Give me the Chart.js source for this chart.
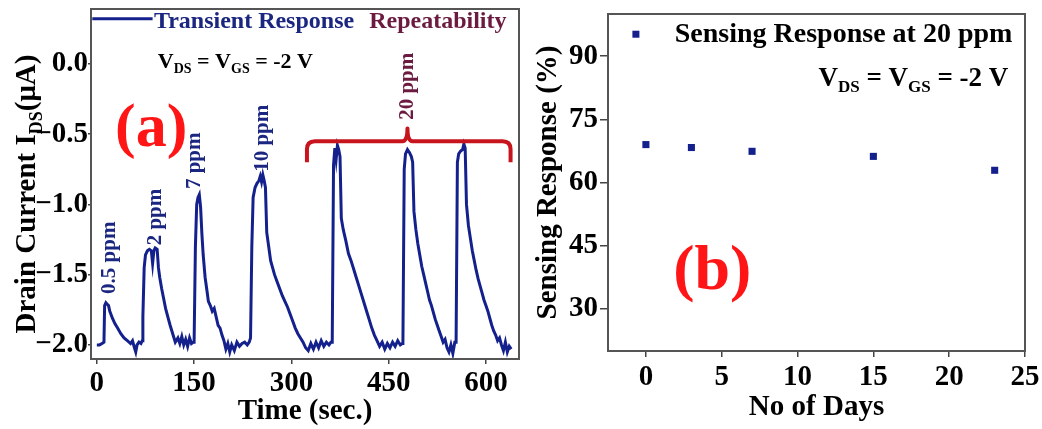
<!DOCTYPE html>
<html>
<head>
<meta charset="utf-8">
<script src="https://cdn.jsdelivr.net/npm/chart.js@4.4.0/dist/chart.umd.min.js"></script>
<style>
  html, body { margin: 0; padding: 0; background: #fff; }
  #wrap { position: relative; width: 1042px; height: 429px; }
  .panel { position: absolute; top: 0; }
  #pa { left: 0; }
  #pb { left: 530px; }
</style>
</head>
<body>
<div id="wrap">
  <div class="panel" id="pa"><canvas id="chartA" width="530" height="429"></canvas></div>
  <div class="panel" id="pb"><canvas id="chartB" width="512" height="429"></canvas></div>
</div>
<script>
/* (a) transient response */
const timeSec = [
  0, 4, 8, 11, 12, 14, 16, 18, 20, 24, 28, 32, 37, 42, 47, 52, 55, 58, 60, 62, 65, 68, 70,
  71, 73, 75, 78, 81, 84, 86, 88, 90, 93, 95, 97, 100, 103, 106, 110, 113, 117, 121, 125, 128, 131, 134, 137, 140, 143, 146, 149,
  150, 152, 154, 156, 158, 160, 162, 164, 167, 170, 172, 175, 178, 181, 184, 187, 190, 193, 196, 199, 202, 205, 208, 212, 216, 220, 224, 228, 232, 235,
  237, 239, 241, 244, 247, 250, 252, 254, 256, 258, 260, 262, 265, 268, 271, 274, 278, 282, 286, 290, 294, 298, 302, 306, 310, 314, 318, 322, 326, 330, 334, 338, 342, 346, 350, 354, 358, 361,
  363, 365, 367, 369, 371, 373, 375, 377, 380, 384, 388, 392, 396, 400, 404, 408, 412, 416, 420, 424, 428, 432, 436, 440, 444, 448, 452, 456, 460, 464, 468, 471,
  472, 474, 476, 479, 482, 485, 487, 489, 492, 495, 498, 501, 504, 507, 510, 513, 516, 519, 522, 525, 528, 531, 534, 537, 540, 543, 546, 549, 552,
  554, 556, 558, 561, 564, 566, 568, 570, 573, 576, 579, 582, 585, 588, 591, 594, 597, 600, 603, 606, 609, 612, 615, 618, 621, 624, 627, 630, 633, 636, 639
];
const drainCurrent = [
  -2.00, -2.00, -1.99, -1.98, -1.72, -1.70, -1.71, -1.72, -1.76, -1.81, -1.85, -1.88, -1.92, -1.95, -1.97, -1.99, -1.97, -2.02, -2.05, -2.00, -1.98, -1.99, -1.97,
  -1.80, -1.45, -1.36, -1.33, -1.32, -1.33, -1.42, -1.33, -1.31, -1.32, -1.45, -1.52, -1.60, -1.67, -1.74, -1.81, -1.86, -1.92, -1.98, -1.95, -1.99, -1.94, -2.00, -1.96, -2.01, -1.95, -1.99, -1.98,
  -1.98, -1.30, -1.00, -0.95, -0.93, -1.02, -1.21, -1.36, -1.52, -1.62, -1.69, -1.72, -1.76, -1.74, -1.80, -1.86, -1.88, -1.93, -1.97, -2.03, -1.99, -2.05, -2.00, -2.04, -1.98, -2.01, -1.99, -1.98, -2.00, -1.98,
  -1.95, -1.30, -0.95, -0.88, -0.85, -0.83, -0.80, -0.84, -0.79, -0.83, -0.88, -1.20, -1.30, -1.40, -1.45, -1.50, -1.55, -1.60, -1.65, -1.69, -1.73, -1.78, -1.83, -1.88, -1.92, -1.95, -1.98, -2.02, -2.04, -1.99, -2.03, -1.98, -2.02, -1.97, -2.01, -1.98, -2.00, -1.98,
  -1.98, -0.72, -0.60, -0.68, -0.58, -0.61, -0.66, -1.10, -1.18, -1.26, -1.35, -1.40, -1.46, -1.52, -1.58, -1.64, -1.70, -1.76, -1.82, -1.88, -1.93, -1.97, -2.01, -1.98, -2.03, -1.99, -2.02, -1.98, -2.01, -1.97, -2.00, -1.99,
  -1.98, -0.75, -0.64, -0.61, -0.63, -0.66, -0.70, -1.05, -1.18, -1.28, -1.36, -1.44, -1.50, -1.56, -1.62, -1.68, -1.72, -1.77, -1.82, -1.86, -1.90, -1.94, -1.98, -1.96, -2.02, -2.05, -2.00, -2.06, -1.98,
  -1.98, -0.70, -0.64, -0.62, -0.61, -0.57, -0.60, -1.00, -1.15, -1.24, -1.33, -1.40, -1.47, -1.53, -1.58, -1.63, -1.68, -1.72, -1.76, -1.81, -1.86, -1.90, -1.93, -1.97, -1.95, -2.00, -2.04, -1.98, -2.05, -2.01, -2.03
];
const timeTicks = [0, 150, 300, 450, 600];
const currentTicks = [-2.0, -1.5, -1.0, -0.5, 0.0];

/* (b) sensing response vs days */
const days = [0, 3, 7, 15, 23];
const response = [69.0, 68.3, 67.4, 66.2, 62.9];
const dayTicks = [0, 5, 10, 15, 20, 25];
const responseTicks = [30, 45, 60, 75, 90];

const FONT = '"Liberation Serif", "Times New Roman", serif';
const NAVY = '#14218c';
const NAVY_TXT = '#1a2680';
const MAROON = '#6b1a40';
const RED = '#ff1515';
const BRACE = '#c8141c';

function tickFont(size) { return { family: FONT, size: size, weight: 'bold' }; }

// text with subscripts: parts = [[text, isSub], ...]
function drawRich(ctx, parts, x, y, size, align, color) {
  const big = 'bold ' + size + 'px ' + FONT;
  const small = 'bold ' + Math.round(size * 0.62) + 'px ' + FONT;
  let w = 0;
  parts.forEach(p => { ctx.font = p[1] ? small : big; w += ctx.measureText(p[0]).width; });
  let cx = align === 'right' ? x - w : (align === 'center' ? x - w / 2 : x);
  ctx.fillStyle = color;
  ctx.textAlign = 'left';
  ctx.textBaseline = 'alphabetic';
  parts.forEach(p => {
    ctx.font = p[1] ? small : big;
    ctx.fillText(p[0], cx, p[1] ? y + size * 0.24 : y);
    cx += ctx.measureText(p[0]).width;
  });
}

function drawText(ctx, text, x, y, size, color, align, rot) {
  ctx.save();
  ctx.translate(x, y);
  if (rot) ctx.rotate(-Math.PI / 2);
  ctx.font = 'bold ' + size + 'px ' + FONT;
  ctx.fillStyle = color;
  ctx.textAlign = align || 'left';
  ctx.textBaseline = 'middle';
  ctx.fillText(text, 0, 0);
  ctx.restore();
}

function frame(chart) {
  const a = chart.chartArea, ctx = chart.ctx;
  ctx.save();
  ctx.strokeStyle = '#555';
  ctx.lineWidth = 2;
  ctx.strokeRect(a.left, a.top, a.right - a.left, a.bottom - a.top);
  ctx.restore();
}

function fixX(h) {
  return s => { s.height = h; s.paddingLeft = 0; s.paddingRight = 0; s.paddingTop = 0; s.paddingBottom = 0; };
}
function fixY(w) {
  return s => { s.width = w; s.paddingLeft = 0; s.paddingRight = 0; s.paddingTop = 0; s.paddingBottom = 0; };
}

const notesA = {
  id: 'notesA',
  afterDatasetsDraw(chart) {
    const ctx = chart.ctx, xs = chart.scales.x, ys = chart.scales.y;
    const X = v => xs.getPixelForValue(v), Y = v => ys.getPixelForValue(v);
    frame(chart);

    // legend
    ctx.save();
    ctx.strokeStyle = NAVY; ctx.lineWidth = 3;
    ctx.beginPath(); ctx.moveTo(X(-7), Y(0.32)); ctx.lineTo(X(86), Y(0.32)); ctx.stroke();
    ctx.restore();
    drawText(ctx, 'Transient Response', X(88), Y(0.30), 24, NAVY_TXT);
    drawText(ctx, 'Repeatability', X(420), Y(0.30), 24, MAROON);
    drawRich(ctx, [['V', 0], ['DS', 1], [' = V', 0], ['GS', 1], [' = -2 V', 0]], X(94), Y(-0.03), 22, 'left', '#000');
    drawText(ctx, '(a)', X(28), Y(-0.47), 62, RED);

    // concentration labels
    drawText(ctx, '0.5 ppm', X(20), Y(-1.38), 21, NAVY_TXT, 'center', true);
    drawText(ctx, '2 ppm', X(90), Y(-1.09), 21, NAVY_TXT, 'center', true);
    drawText(ctx, '7 ppm', X(150), Y(-0.69), 21, NAVY_TXT, 'center', true);
    drawText(ctx, '10 ppm', X(255), Y(-0.53), 21, NAVY_TXT, 'center', true);
    drawText(ctx, '20 ppm', X(479), Y(-0.16), 21, MAROON, 'center', true);

    // brace over the 20 ppm pulses
    const x1 = X(324), xc = X(479), x2 = X(638);
    const yb = Y(-0.55), ye = Y(-0.70), yt = Y(-0.46), r = 8;
    ctx.save();
    ctx.strokeStyle = BRACE; ctx.lineWidth = 4; ctx.lineJoin = 'round';
    ctx.beginPath();
    ctx.moveTo(x1, ye);
    ctx.lineTo(x1, yb + r);
    ctx.quadraticCurveTo(x1, yb, x1 + r, yb);
    ctx.lineTo(xc - 5, yb);
    ctx.quadraticCurveTo(xc, yb, xc, yt);
    ctx.quadraticCurveTo(xc, yb, xc + 5, yb);
    ctx.lineTo(x2 - r, yb);
    ctx.quadraticCurveTo(x2, yb, x2, yb + r);
    ctx.lineTo(x2, ye);
    ctx.stroke();
    ctx.restore();

    // y title with subscript, rotated
    ctx.save();
    ctx.translate(25, (chart.chartArea.top + chart.chartArea.bottom) / 2 + 10);
    ctx.rotate(-Math.PI / 2);
    drawRich(ctx, [['Drain Current I', 0], ['DS', 1], ['(\u03bcA)', 0]], 0, 10, 29, 'center', '#000');
    ctx.restore();
  }
};

const notesB = {
  id: 'notesB',
  afterDatasetsDraw(chart) {
    const ctx = chart.ctx, xs = chart.scales.x, ys = chart.scales.y;
    const X = v => xs.getPixelForValue(v), Y = v => ys.getPixelForValue(v);
    frame(chart);
    ctx.save();
    ctx.fillStyle = NAVY;
    ctx.fillRect(X(-0.66) - 3.5, Y(95.2) - 3.5, 7, 7);
    ctx.restore();
    drawText(ctx, 'Sensing Response at 20 ppm', X(1.9), Y(95.0), 28, '#000');
    drawRich(ctx, [['V', 0], ['DS', 1], [' = V', 0], ['GS', 1], [' = -2 V', 0]], X(23.9), Y(83.0), 27, 'right', '#000');
    drawText(ctx, '(b)', X(1.8), Y(38.6), 64, RED);
  }
};

const tickGrid = len => ({ drawOnChartArea: false, drawTicks: true, tickLength: len, color: '#444', lineWidth: 1.5 });

new Chart(document.getElementById('chartA'), {
  type: 'line',
  data: {
    datasets: [{
      label: 'Transient Response',
      data: timeSec.map((t, i) => ({ x: t, y: drainCurrent[i] })),
      borderColor: NAVY,
      borderWidth: 3,
      pointRadius: 0,
      tension: 0
    }]
  },
  options: {
    responsive: false,
    animation: false,
    layout: { padding: { top: 9, right: 11, left: 0, bottom: 0 } },
    plugins: { legend: { display: false }, tooltip: { enabled: false } },
    scales: {
      x: {
        type: 'linear', min: -9, max: 651,
        afterBuildTicks: s => { s.ticks = timeTicks.map(v => ({ value: v })); },
        afterFit: fixX(70),
        grid: tickGrid(5),
        border: { display: false },
        ticks: { font: tickFont(29), color: '#000', padding: 2, maxRotation: 0, autoSkip: false },
        title: { display: true, text: 'Time (sec.)', font: tickFont(29), color: '#000', padding: { top: 0, bottom: 0 } }
      },
      y: {
        type: 'linear', min: -2.1, max: 0.39,
        afterBuildTicks: s => { s.ticks = currentTicks.map(v => ({ value: v })); },
        afterFit: fixY(91),
        grid: tickGrid(3),
        border: { display: false },
        ticks: { font: tickFont(29), color: '#000', padding: 0, autoSkip: false,
          callback: v => v.toFixed(1).replace('-', '\u2212') }
      }
    }
  },
  plugins: [notesA]
});

new Chart(document.getElementById('chartB'), {
  type: 'scatter',
  data: {
    datasets: [{
      label: 'Sensing Response at 20 ppm',
      data: days.map((d, i) => ({ x: d, y: response[i] })),
      pointStyle: 'rect',
      pointRadius: 5,
      backgroundColor: NAVY,
      borderWidth: 0
    }]
  },
  options: {
    responsive: false,
    animation: false,
    layout: { padding: { top: 14, right: 17, left: 0, bottom: 0 } },
    plugins: { legend: { display: false }, tooltip: { enabled: false } },
    scales: {
      x: {
        type: 'linear', min: -2.5, max: 25,
        afterBuildTicks: s => { s.ticks = dayTicks.map(v => ({ value: v })); },
        afterFit: fixX(78),
        grid: tickGrid(6),
        border: { display: false },
        ticks: { font: tickFont(29), color: '#000', padding: 3, maxRotation: 0, autoSkip: false },
        title: { display: true, text: 'No of Days', font: tickFont(29), color: '#000', padding: { top: 0, bottom: 4 } }
      },
      y: {
        type: 'linear', min: 20, max: 100,
        afterBuildTicks: s => { s.ticks = responseTicks.map(v => ({ value: v })); },
        afterFit: fixY(78),
        grid: tickGrid(8),
        border: { display: false },
        ticks: { font: tickFont(29), color: '#000', padding: 2, autoSkip: false },
        title: { display: true, text: 'Sensing Response (%)', font: tickFont(29), color: '#000', padding: { top: 1, bottom: 0 } }
      }
    }
  },
  plugins: [notesB]
});
</script>
</body>
</html>
